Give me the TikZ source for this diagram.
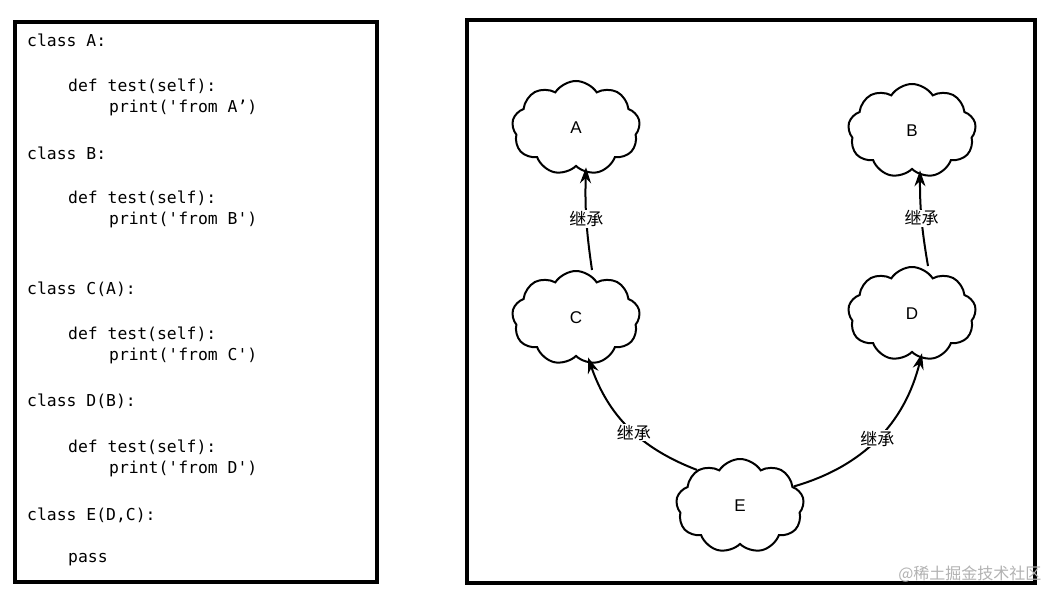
\documentclass[tikz,border=0pt]{standalone}
\usepackage{fontspec}
\setmainfont{Liberation Sans}
\setmonofont{DejaVu Sans Mono}
\newfontfamily\cjk{Noto Sans CJK SC}
\usetikzlibrary{shapes.symbols,arrows.meta,calc}
\begin{document}
\begin{tikzpicture}[x=1pt,y=-1pt]
        \tikzstyle{cls} = [cloud, cloud puffs=9, cloud puff arc=115, aspect=1.4, draw, line width=2pt,
                           minimum width=128pt, minimum height=94pt, inner sep=0pt, font=\fontsize{17}{20}\selectfont]
        \tikzstyle{inh} = [line width=2pt, -{Stealth[length=16pt,width=11pt]}]
        \tikzstyle{lbl} = [fill=white, inner sep=1pt, font=\cjk\fontsize{17}{20}\selectfont]
        \tikzstyle{code} = [anchor=west, inner sep=0pt, font=\ttfamily\fontsize{16.4}{18}\selectfont]

        \useasboundingbox (0,0) rectangle (1062,602);
        \fill[white] (0,0) rectangle (1062,602);

        % code panel
        \draw[line width=3.5pt] (15,22) rectangle (377,582);
        \node[code] (l1) at (27,40) {class A:};
        \node[code] (l2) at (68,86) {def test(self):};
        \node[code] (l3) at (109,108) {print('from A’)};
        \node[code] (l4) at (27,153) {class B:};
        \node[code] (l5) at (68,198) {def test(self):};
        \node[code] (l6) at (109,220) {print('from B')};
        \node[code] (l7) at (27,289) {class C(A):};
        \node[code] (l8) at (68,334) {def test(self):};
        \node[code] (l9) at (109,356) {print('from C')};
        \node[code] (l10) at (27,401) {class D(B):};
        \node[code] (l11) at (68,447) {def test(self):};
        \node[code] (l12) at (109,469) {print('from D')};
        \node[code] (l13) at (27,515) {class E(D,C):};
        \node[code] (l14) at (68,560) {pass};

        % inheritance panel
        \draw[line width=3.5pt] (467,20) rectangle (1035,583);

        \node[cls] (A) at (576,128) {A};
        \node[cls] (B) at (912,131) {B};
        \node[cls] (C) at (576,318) {C};
        \node[cls] (D) at (912,314) {D};
        \node[cls] (E) at (740,506) {E};

        \draw[inh] ($(C.north)+(16,0)$) to[bend left=5] node[lbl] {继承} ($(A.south)+(10,0)$);
        \draw[inh] ($(D.north)+(16,0)$) to[bend left=5] node[lbl] {继承} ($(B.south)+(8,0)$);
        \draw[inh] (E.140) to[bend left=25] node[lbl, pos=0.45] {继承} ($(C.south)+(12,0)$);
        \draw[inh] (E.20) to[bend right=30] node[lbl, pos=0.5] {继承} ($(D.south)+(10,0)$);

        % watermark
        \node[text=gray!60, anchor=east, font=\cjk\fontsize{16}{18}\selectfont] (wm) at (1045,574) {@稀土掘金技术社区};
\end{tikzpicture}
\end{document}
